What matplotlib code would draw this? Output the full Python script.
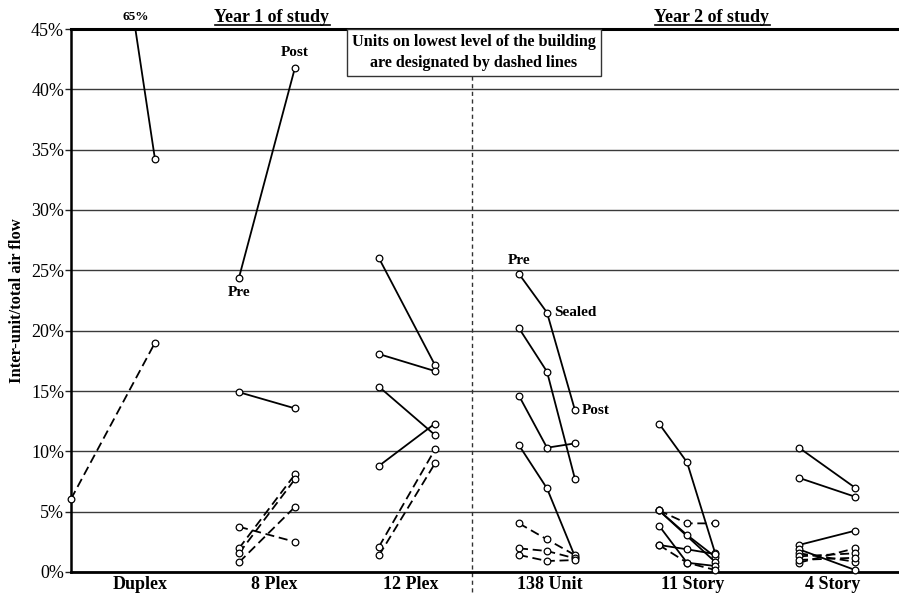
import matplotlib
matplotlib.use("Agg")
import matplotlib.pyplot as plt
from matplotlib.lines import Line2D
from matplotlib.patches import Rectangle

plt.rcParams['font.family'] = ['Liberation Serif', 'DejaVu Serif']

# building groups, left to right
groups = ['Duplex', '8 Plex', '12 Plex', '138 Unit', '11 Story', '4 Story']

# inter-unit / total air flow (%) per unit: pre -> (sealed) -> post
duplex_solid = [[65.0, 34.2]]
duplex_dashed = [[6.05, 19.0]]

plex8_solid = [[24.4, 41.8], [14.9, 13.56]]
plex8_dashed = [[3.75, 2.5], [1.96, 8.09], [1.55, 7.7], [0.8, 5.4]]

plex12_solid = [[26.0, 17.15], [18.06, 16.65], [15.35, 11.35], [8.8, 12.3]]
plex12_dashed = [[2.1, 10.16], [1.38, 9.0]]

unit138_solid = [[24.7, 21.5, 13.4], [20.2, 16.6, 7.7],
                 [14.6, 10.3, 10.66], [10.5, 6.93, 1.27]]
unit138_dashed = [[4.03, 2.7, 1.4], [1.96, 1.74, 1.13], [1.41, 0.91, 0.99]]

story11_solid = [[12.3, 9.1, 1.6], [5.1, 3.07, 1.27], [5.1, None, 0.85],
                 [3.84, 0.77, 0.5], [2.24, 1.88, 1.49]]
story11_dashed = [[5.1, 4.03, 4.03], [2.24, 0.77, 0.17]]

story4_solid = [[10.3, 6.99], [7.8, 6.24], [2.24, 3.42], [1.88, 0.17]]
story4_dashed = [[1.55, 0.85], [0.77, 1.96], [1.3, 1.55], [1.0, 1.18]]

yticks = list(range(0, 50, 5))

# layout (x in slot units)
group_start = [0, 6, 11, 16, 21, 26]
stage_step = [3, 2, 2, 1, 1, 2]
group_label_x = [2.46, 7.25, 12.14, 17.1, 22.2, 27.2]
divider_x = 14.32

fig = plt.figure(figsize=(8.99, 5.93), dpi=100)
ax = fig.add_axes([71 / 899, 21 / 593, 828 / 899, 543 / 593])
ax.set_xlim(0, 828 / 28)
ax.set_ylim(0, 45)

ax.set_yticks(yticks)
ax.set_yticklabels([f'{t}%' for t in yticks], fontsize=13)
ax.yaxis.grid(True, color='#3a3a3a', lw=1.0, zorder=1)
ax.tick_params(axis='y', length=4, width=1, pad=1, color='#222222')
ax.set_xticks(group_label_x)
ax.set_xticklabels(groups, fontsize=13, fontweight='bold')
ax.tick_params(axis='x', length=0, pad=3)
ax.set_ylabel('Inter-unit/total air flow', fontsize=12, fontweight='bold')
ax.yaxis.set_label_coords(-0.056, 0.5)

ax.spines['right'].set_visible(False)
ax.spines['top'].set_linewidth(2.2)
ax.spines['bottom'].set_linewidth(2.0)
ax.spines['left'].set_linewidth(1.8)


def draw(gi, series, dashed, pre_shift=0):
    for vals in series:
        xs, ys = [], []
        for i, v in enumerate(vals):
            if v is None:
                continue
            xs.append(group_start[gi] + i * stage_step[gi] + (pre_shift if i == 0 else 0))
            ys.append(v)
        ax.plot(xs, ys, color='black', lw=1.3,
                ls=(0, (5, 2.6)) if dashed else '-', zorder=3)
        px = [x for x, y in zip(xs, ys) if y <= 45]
        py = [y for y in ys if y <= 45]
        ax.plot(px, py, ls='none', marker='o', ms=4.8, mfc='white', mec='black',
                mew=0.9, clip_on=False, zorder=5)


# the 65% duplex reading is off the scale; its line enters from the top
draw(0, duplex_solid, False, pre_shift=1)
draw(0, duplex_dashed, True)
draw(1, plex8_solid, False)
draw(1, plex8_dashed, True)
draw(2, plex12_solid, False)
draw(2, plex12_dashed, True)
draw(3, unit138_solid, False)
draw(3, unit138_dashed, True)
draw(4, story11_solid, False)
draw(4, story11_dashed, True)
draw(5, story4_solid, False)
draw(5, story4_dashed, True)

# annotations
x0 = group_start[0] + 1
x1 = group_start[0] + stage_step[0]
v0, v1 = duplex_solid[0]
x_top = x0 + (v0 - 45) / (v0 - v1) * (x1 - x0)
ax.annotate('65%', (x_top, 45), xytext=(0, 4), textcoords='offset points',
            ha='center', va='bottom', fontsize=9.5, fontweight='bold',
            annotation_clip=False)

bold = dict(fontsize=11, fontweight='bold', textcoords='offset points')
p8 = plex8_solid[0]
ax.annotate('Post', (group_start[1] + stage_step[1], p8[1]), xytext=(0, 6),
            ha='center', va='bottom', **bold)
ax.annotate('Pre', (group_start[1], p8[0]), xytext=(0, -6),
            ha='center', va='top', **bold)
u = unit138_solid[0]
ax.annotate('Pre', (group_start[3], u[0]), xytext=(0, 5),
            ha='center', va='bottom', **bold)
ax.annotate('Sealed', (group_start[3] + 1, u[1]), xytext=(5, 0),
            ha='left', va='center', **bold)
ax.annotate('Post', (group_start[3] + 2, u[2]), xytext=(5, 0),
            ha='left', va='center', **bold)

# legend box and year divider
box_y = (572 - 76) / 12.07
ax.add_patch(Rectangle((276 / 28, box_y), 254 / 28, 45 - box_y, facecolor='white',
                       edgecolor='#333333', lw=1.0, clip_on=False, zorder=6))
ax.text(403 / 28, (box_y + 45) / 2,
        'Units on lowest level of the building\nare designated by dashed lines',
        ha='center', va='center', fontsize=11.6, fontweight='bold',
        linespacing=1.45, zorder=7)
ax.plot([divider_x, divider_x], [box_y, -1.8], color='#333333', lw=1.0,
        ls=(0, (3, 2.5)), clip_on=False, zorder=2)

# year headings, underlined
fig.canvas.draw()
renderer = fig.canvas.get_renderer()
W, H = fig.bbox.width, fig.bbox.height
for label, xc in [('Year 1 of study', 272), ('Year 2 of study', 712)]:
    t = fig.text(xc / 899, 1 - 17.5 / 593, label, ha='center', va='center',
                 fontsize=13, fontweight='bold')
    bb = t.get_window_extent(renderer)
    yl = bb.y0 + 1
    fig.add_artist(Line2D([bb.x0 / W, bb.x1 / W], [yl / H, yl / H],
                          color='black', lw=1.2))

fig.savefig('out.png', dpi=100)
